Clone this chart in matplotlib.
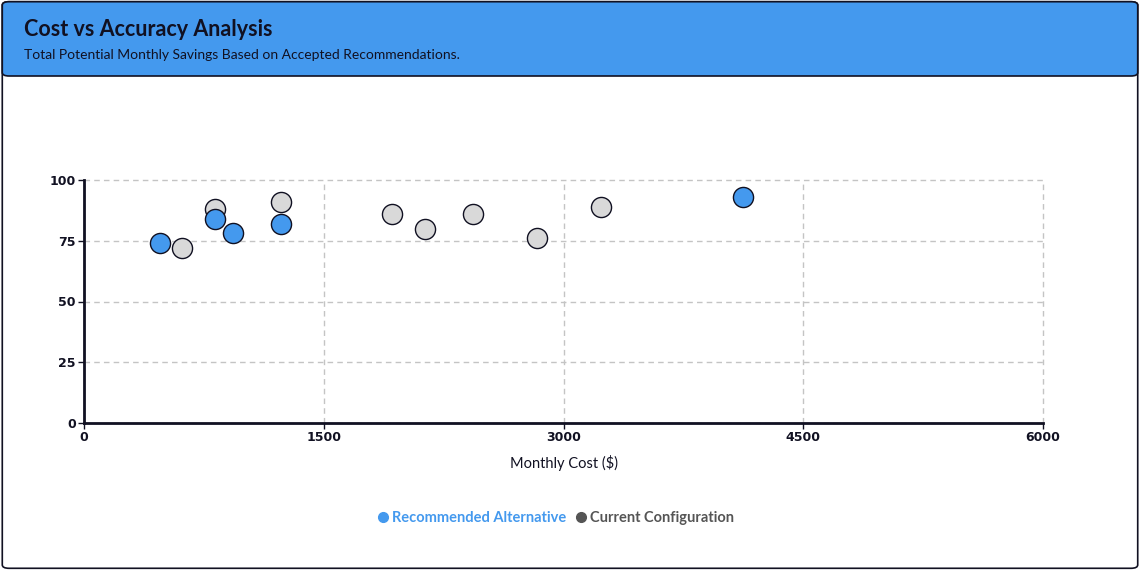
import matplotlib
matplotlib.use("Agg")
import matplotlib.pyplot as plt
from matplotlib.patches import FancyBboxPatch
from matplotlib.lines import Line2D

# data
rec_cost = [475, 820, 935, 1230, 4125]
rec_acc = [74, 84, 78, 82, 93]
cur_cost = [615, 820, 1230, 1930, 2135, 2435, 2835, 3235]
cur_acc = [72, 88, 91, 86, 80, 86, 76, 89]
x_ticks = [0, 1500, 3000, 4500, 6000]
y_ticks = [0, 25, 50, 75, 100]

blue = "#4499EE"
grey_fill = "#D9D9D9"
dark = "#111122"

plt.rcParams['font.family'] = ['Lato', 'DejaVu Sans']

fig = plt.figure(figsize=(11.4, 5.7), dpi=100)

# outer card and header
fig.patches.append(FancyBboxPatch((0.002, 0.003), 0.996, 0.994, boxstyle="round,pad=0,rounding_size=0.006",
                                  transform=fig.transFigure, facecolor="white", edgecolor=dark, lw=1.2, zorder=-2))
fig.patches.append(FancyBboxPatch((0.002, 1 - 76 / 570), 0.996, 76 / 570 - 0.003,
                                  boxstyle="round,pad=0,rounding_size=0.006",
                                  transform=fig.transFigure, facecolor=blue, edgecolor=dark, lw=1.2, zorder=-1))
fig.text(24 / 1140, 1 - 29 / 570, "Cost vs Accuracy Analysis", fontsize=15.5, fontweight="bold",
         color=dark, va="center", ha="left")
fig.text(24 / 1140, 1 - 55 / 570, "Total Potential Monthly Savings Based on Accepted Recommendations.",
         fontsize=10, color=dark, va="center", ha="left")

ax = fig.add_axes([84 / 1140, 147 / 570, 959 / 1140, 243 / 570])
ax.set_facecolor("none")
ax.set_xlim(0, 6000)
ax.set_ylim(0, 100)
tick_font = dict(fontweight="bold", color=dark, fontsize=9, family="DejaVu Sans")
ax.set_xticks(x_ticks, labels=[str(t) for t in x_ticks], **tick_font)
ax.set_yticks(y_ticks, labels=[str(t) for t in y_ticks], **tick_font)
ax.grid(True, color="#C4C4C4", linestyle=(0, (4, 3)), lw=1, clip_on=False)
ax.set_axisbelow(True)
for s in ["top", "right"]:
    ax.spines[s].set_visible(False)
for s in ["left", "bottom"]:
    ax.spines[s].set_color(dark)
    ax.spines[s].set_linewidth(2)
ax.tick_params(axis="both", length=4, width=1, color=dark, pad=2)
ax.set_xlabel("Monthly Cost ($)", fontsize=10.5, color=dark, labelpad=8)

ax.scatter(cur_cost, cur_acc, s=210, c=grey_fill, edgecolors=dark, linewidths=1, zorder=3, clip_on=False)
ax.scatter(rec_cost, rec_acc, s=210, c=blue, edgecolors=dark, linewidths=1, zorder=4, clip_on=False)

handles = [Line2D([], [], marker="o", ls="", color=blue, markersize=7),
           Line2D([], [], marker="o", ls="", color="#555555", markersize=7)]
fig.legend(handles, ["Recommended Alternative", "Current Configuration"], loc="center",
           bbox_to_anchor=(555 / 1140, 1 - 518 / 570), ncol=2, frameon=False,
           handletextpad=0.1, columnspacing=0.5, handlelength=1,
           prop={"weight": "bold", "size": 10.5}, labelcolor=[blue, "#555555"])

fig.savefig("out.png", dpi=100)
